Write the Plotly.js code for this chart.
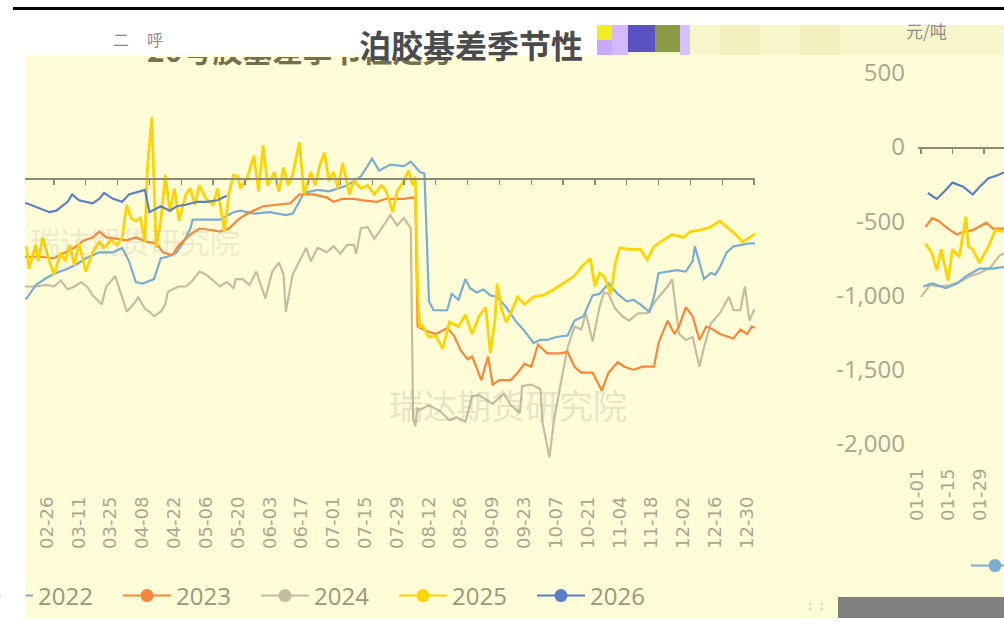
<!DOCTYPE html>
<html><head><meta charset="utf-8">
<script src="https://cdn.plot.ly/plotly-3.0.1.min.js"></script>
<style>html,body{margin:0;padding:0;background:#fff;}#chart{width:1004px;height:642px;}</style>
</head><body><div id="chart"></div>
<script>
// ---------- data ----------
const tickLabels = ['01-01','01-15','01-29','02-12','02-26','03-11','03-25','04-08','04-22','05-06','05-20','06-03','06-17','07-01','07-15','07-29','08-12','08-26','09-09','09-23','10-07','10-21','11-04','11-18','12-02','12-16','12-30'];
const years = ['2022','2023','2024','2025','2026'];
const yTickVals = [500,0,-500,-1000,-1500,-2000];
const yTickText = ['500','0','-500','-1,000','-1,500','-2,000'];

// left chart (day of year index, value)
const L2022d = [40,44,48,53,57,62,66,70,76,82,86,89,92,95,100,103,106,110,113,116,117,123,129,135,138,144,151,158,161,166,172,177,185,191,196,199,204,210,213,217,219,221,223,229,231,234,237,239,242,245,248,251,255,259,263,267,270,273,277,282,285,289,293,296,300,304,308,311,314,318,320,322,326,330,334,337,338,340,342,345,347,349,352,355,359,362,365];
const L2022v = [-810,-810,-720,-670,-640,-610,-580,-540,-500,-500,-470,-560,-700,-710,-680,-540,-530,-500,-430,-340,-280,-280,-280,-230,-220,-240,-230,-250,-240,-100,-80,-90,-50,10,130,50,90,80,110,40,30,-830,-890,-890,-780,-820,-680,-740,-770,-750,-790,-800,-870,-960,-1030,-1110,-1090,-1090,-1070,-1060,-960,-930,-790,-780,-710,-780,-830,-820,-850,-900,-800,-640,-630,-620,-630,-560,-460,-570,-680,-640,-650,-600,-500,-460,-450,-440,-440];
const L2023d = [40,44,50,56,60,65,69,73,76,79,84,88,92,97,101,104,108,111,116,120,125,129,133,137,141,148,154,160,164,170,176,179,183,188,192,198,202,210,214,215,216,220,224,229,232,235,238,240,244,247,249,252,257,260,263,266,269,273,279,282,285,288,293,297,300,304,307,311,315,320,322,326,329,331,334,337,340,343,346,349,355,358,361,363,365];
const L2023v = [-530,-530,-530,-540,-510,-470,-420,-400,-360,-400,-410,-420,-400,-430,-440,-500,-520,-450,-380,-340,-350,-360,-340,-280,-240,-190,-180,-170,-110,-110,-130,-160,-140,-140,-150,-160,-140,-140,-130,-140,-1000,-1030,-1050,-1010,-1060,-1160,-1220,-1200,-1360,-1200,-1390,-1360,-1360,-1310,-1250,-1270,-1120,-1180,-1180,-1170,-1270,-1310,-1310,-1430,-1310,-1240,-1270,-1290,-1270,-1270,-1110,-960,-1050,-1000,-870,-930,-1090,-1000,-1020,-1050,-1080,-1020,-1050,-1000,-1010];
const L2024d = [40,44,48,53,56,59,62,65,68,71,73,77,79,83,86,88,92,93,96,98,100,103,105,106,108,111,114,117,120,123,126,129,132,135,136,139,142,145,149,152,155,157,158,161,163,167,169,172,176,179,182,185,188,189,191,194,197,200,204,207,210,213,214,215,216,217,221,226,230,233,237,240,243,249,252,254,257,261,262,266,270,271,274,276,279,282,285,288,290,293,296,298,300,303,306,309,313,317,321,326,328,331,334,337,340,342,345,349,353,355,358,360,362,364,365];
const L2024v = [-730,-730,-730,-720,-730,-690,-750,-730,-700,-740,-790,-850,-730,-660,-800,-900,-830,-800,-880,-900,-930,-900,-850,-770,-750,-730,-730,-690,-630,-650,-690,-730,-700,-740,-680,-680,-720,-630,-810,-630,-570,-650,-900,-650,-590,-470,-560,-470,-500,-460,-510,-450,-450,-510,-340,-330,-410,-340,-250,-320,-270,-340,-1620,-1670,-1550,-1560,-1530,-1570,-1630,-1610,-1640,-1470,-1460,-1520,-1480,-1450,-1530,-1580,-1400,-1390,-1420,-1650,-1880,-1630,-1380,-1140,-1000,-1020,-910,-1100,-870,-770,-780,-880,-930,-960,-910,-910,-820,-730,-680,-1050,-1090,-1070,-1270,-1140,-980,-910,-800,-890,-890,-730,-960,-890,-900];
const L2025d = [40,44,45,48,49,51,54,56,59,61,63,65,67,70,73,76,78,81,84,86,88,90,92,94,96,97,99,101,103,105,107,109,111,114,116,118,120,123,126,128,131,133,135,137,138,141,144,146,148,150,153,155,157,159,161,164,166,169,171,173,175,177,179,181,183,186,188,191,194,197,200,202,205,207,210,212,214,215,216,217,218,221,224,227,230,234,237,240,243,246,248,250,251,253,255,257,260,263,267,271,276,280,285,288,292,294,296,298,301,303,305,309,314,317,320,324,328,333,336,340,345,349,353,356,359,362,364,365];
const L2025v = [-470,-470,-610,-450,-560,-400,-560,-650,-500,-560,-450,-590,-440,-630,-500,-430,-470,-420,-450,-400,-180,-270,-290,-270,-430,40,410,-470,-290,20,-230,-70,-290,-110,-70,-180,-50,-140,-180,-70,-360,-100,20,10,-70,0,150,-90,220,-50,40,-90,70,-50,20,240,-110,40,-50,90,170,-20,40,-70,100,-110,-20,-70,-50,-110,-50,-80,-230,-90,-20,50,-50,10,-770,-1000,-990,-1070,-1060,-1150,-970,-1000,-920,-1050,-930,-870,-1180,-960,-710,-890,-970,-910,-800,-850,-800,-790,-750,-710,-660,-600,-540,-730,-640,-660,-780,-570,-470,-480,-480,-550,-460,-420,-380,-400,-360,-350,-330,-290,-340,-380,-430,-400,-380,-370];
const L2026d = [40,44,54,57,62,64,67,70,73,76,78,82,86,89,96,98,103,107,110,114,119,123,128,132];
const L2026v = [-170,-170,-230,-220,-160,-110,-150,-160,-170,-140,-100,-140,-160,-110,-80,-230,-190,-220,-190,-180,-160,-160,-150,-120];

// right chart (day of year index, value)
const R2022d = [1,5,11,16,20,26,32,37,40];
const R2022v = [-940,-920,-950,-920,-870,-820,-820,-810,-800];
const R2023d = [2,5,8,12,16,19,23,29,32,37,40];
const R2023v = [-540,-480,-500,-550,-590,-570,-560,-510,-550,-550,-540];
const R2024d = [0,4,8,13,17,22,26,31,35,37,40];
const R2024v = [-1010,-930,-940,-930,-910,-870,-850,-810,-730,-720,-700];
const R2025d = [2,5,7,9,12,14,17,20,21,23,26,30,33,37,40];
const R2025v = [-650,-720,-830,-690,-900,-690,-740,-470,-670,-690,-780,-670,-560,-570,-560];
const R2026d = [3,7,11,14,19,23,26,30,34,37,40];
const R2026v = [-310,-350,-290,-240,-270,-320,-270,-210,-190,-170,-150];

// ---------- styling / geometry ----------
const colors = {'2022':'#7badcf','2023':'#f5883a','2024':'#c6bca2','2025':'#ffd400','2026':'#5a7fc6'};
const W=1004,H=642;
const px=x=>x/W, py=y=>1-y/H;
const dayL = x => 56 + (x-54)/2.2727;
const dayR = x => (x-921)/2.25;
const valL = y => (178-y)/0.1486;
const valR = y => (147-y)/0.1484;
const tickVals = tickLabels.map((_,i)=>i*14);
const labelFont = {family:'DejaVu Sans', size:18, color:'#aca68e'};
const LEGEND_LEFT = -20;

const leftSets = {'2022':[L2022d,L2022v],'2023':[L2023d,L2023v],'2024':[L2024d,L2024v],'2025':[L2025d,L2025v],'2026':[L2026d,L2026v]};
const rightSets = {'2022':[R2022d,R2022v],'2023':[R2023d,R2023v],'2024':[R2024d,R2024v],'2025':[R2025d,R2025v],'2026':[R2026d,R2026v]};
const drawOrder = ['2024','2022','2023','2025','2026'];

const traces = [];
drawOrder.forEach(yr=>{
  traces.push({x:leftSets[yr][0], y:leftSets[yr][1], xaxis:'x', yaxis:'y', mode:'lines', name:yr,
    line:{color:colors[yr], width: yr==='2025'?2.8:2.2}, showlegend:false, hoverinfo:'skip'});
  traces.push({x:rightSets[yr][0], y:rightSets[yr][1], xaxis:'x2', yaxis:'y2', mode:'lines', name:yr,
    line:{color:colors[yr], width: yr==='2025'?2.8:2.2}, showlegend:false, hoverinfo:'skip'});
});
years.forEach(yr=>{
  traces.push({x:[null], y:[null], xaxis:'x', yaxis:'y', mode:'lines+markers', name:yr, legend:'legend',
    line:{color:colors[yr], width:2}, marker:{size:13, color:colors[yr]}, hoverinfo:'skip'});
  traces.push({x:[null], y:[null], xaxis:'x2', yaxis:'y2', mode:'lines+markers', name:yr, legend:'legend2',
    line:{color:colors[yr], width:2}, marker:{size:13, color:colors[yr]}, hoverinfo:'skip'});
});
traces.push({x:[null],y:[null],xaxis:'x3',yaxis:'y',showlegend:false,hoverinfo:'skip'});
traces.push({x:[null],y:[null],xaxis:'x4',yaxis:'y2',showlegend:false,hoverinfo:'skip'});

const noGrid = {showgrid:false, zeroline:false};
const axisCol = '#8e8977';
const legendFont = {family:'Open Sans', size:24, color:'#9d977b'};
const ann = (o) => Object.assign({xref:'paper', yref:'paper', showarrow:false, xanchor:'center', yanchor:'middle'}, o);
const layout = {
  width:W, height:H, margin:{l:0,r:0,t:0,b:0,autoexpand:false},
  paper_bgcolor:'#ffffff', plot_bgcolor:'rgba(0,0,0,0)',
  xaxis:Object.assign({domain:[px(25),px(755)], range:[dayL(25),dayL(755)], anchor:'free', position:py(492),
    tickmode:'array', tickvals:tickVals, ticktext:tickLabels, tickangle:-90, ticklabelshift:-7,
    ticks:'', showline:false, tickfont:labelFont}, noGrid),
  yaxis:Object.assign({domain:[py(490),py(55)], range:[valL(490),valL(55)], visible:false}, noGrid),
  xaxis3:Object.assign({overlaying:'x', domain:[px(25),px(755)], range:[dayL(25),dayL(755)], anchor:'free', position:py(178),
    tickmode:'array', tickvals:tickVals, ticks:'outside', ticklen:5, tickwidth:1.2, tickcolor:axisCol,
    showline:true, linecolor:axisCol, linewidth:1.5, showticklabels:false}, noGrid),
  xaxis2:Object.assign({domain:[px(918),1], range:[dayR(918),dayR(1004)], anchor:'free', position:py(464),
    tickmode:'array', tickvals:tickVals, ticktext:tickLabels, tickangle:-90, ticklabelshift:-4,
    ticks:'', showline:false, tickfont:labelFont}, noGrid),
  yaxis2:Object.assign({domain:[py(470),py(55)], range:[valR(470),valR(55)], anchor:'x2',
    tickmode:'array', tickvals:yTickVals, ticktext:yTickText, ticks:'', showline:false, ticklabelstandoff:12,
    tickfont:{family:'Open Sans', size:24, color:'#aca68e'}}, noGrid),
  xaxis4:Object.assign({overlaying:'x2', domain:[px(918),1], range:[dayR(918),dayR(1004)], anchor:'free', position:py(147),
    tickmode:'array', tickvals:tickVals, ticks:'outside', ticklen:5, tickwidth:1.2, tickcolor:axisCol,
    showline:true, linecolor:axisCol, linewidth:1.5, showticklabels:false}, noGrid),
  legend:{orientation:'h', x:0, xanchor:'left', y:py(596), yanchor:'middle', itemwidth:48, entrywidth:75,
    font:legendFont, bgcolor:'rgba(0,0,0,0)', traceorder:'normal'},
  legend2:{orientation:'h', x:px(966), xanchor:'left', y:py(566), yanchor:'middle', itemwidth:48, entrywidth:75,
    font:legendFont, bgcolor:'rgba(0,0,0,0)', traceorder:'normal'},
  shapes:[
    {type:'rect', xref:'paper', yref:'paper', x0:px(25), x1:1, y0:py(618), y1:py(55), fillcolor:'#fefdd8', line:{width:0}, layer:'below'},
    {type:'rect', xref:'paper', yref:'paper', x0:px(597), x1:1, y0:py(55), y1:py(25), fillcolor:'#f9f6cc', line:{width:0}, layer:'below'},
    {type:'rect', xref:'paper', yref:'paper', x0:px(597), x1:px(612), y0:py(40), y1:py(25), fillcolor:'#f2ee1e', line:{width:0}, layer:'below'},
    {type:'rect', xref:'paper', yref:'paper', x0:px(597), x1:px(612), y0:py(55), y1:py(40), fillcolor:'#c9a9fb', line:{width:0}, layer:'below'},
    {type:'rect', xref:'paper', yref:'paper', x0:px(612), x1:px(628), y0:py(55), y1:py(25), fillcolor:'#d4bafc', line:{width:0}, layer:'below'},
    {type:'rect', xref:'paper', yref:'paper', x0:px(628), x1:px(655), y0:py(52), y1:py(25), fillcolor:'#5b52c2', line:{width:0}, layer:'below'},
    {type:'rect', xref:'paper', yref:'paper', x0:px(655), x1:px(680), y0:py(52), y1:py(25), fillcolor:'#8c9a48', line:{width:0}, layer:'below'},
    {type:'rect', xref:'paper', yref:'paper', x0:px(680), x1:px(690), y0:py(55), y1:py(25), fillcolor:'#d5c4fb', line:{width:0}, layer:'below'},
    {type:'rect', xref:'paper', yref:'paper', x0:px(720), x1:px(760), y0:py(55), y1:py(25), fillcolor:'#f4efbf', line:{width:0}, layer:'below'},
    {type:'rect', xref:'paper', yref:'paper', x0:px(800), x1:px(840), y0:py(55), y1:py(25), fillcolor:'#f4efbf', line:{width:0}, layer:'below'},
    {type:'rect', xref:'paper', yref:'paper', x0:px(838), x1:1, y0:py(618), y1:py(597), fillcolor:'#808080', line:{width:0}, layer:'below'},
    {type:'line', xref:'paper', yref:'paper', x0:px(13), x1:1, y0:py(8.5), y1:py(8.5), line:{color:'#000000', width:3}, layer:'below'}
  ],
  annotations:[
    ann({text:'瑞达期货研究院', x:px(508), y:py(404),
      font:{family:'Noto Sans CJK SC', size:34, color:'rgba(175,168,150,0.30)'}}),
    ann({text:'瑞达期货研究院', x:px(135), y:py(240),
      font:{family:'Noto Sans CJK SC', size:30, color:'rgba(175,168,150,0.22)'}}),
    ann({text:'20号胶基差季节性走势', x:px(145), xanchor:'left', y:py(55), yanchor:'top',
      height:14, valign:'bottom',
      font:{family:'Noto Sans CJK SC', size:30, weight:700, color:'#77704f'}}),
    ann({text:'泊胶基差季节性', x:px(357), xanchor:'left', y:py(44),
      font:{family:'Noto Sans CJK SC', size:32, weight:700, color:'#4b4b4b'}}),
    ann({text:'二     呼', x:px(138), y:py(39),
      font:{family:'Noto Sans CJK SC', size:16, color:'#8a8a8a'}}),
    ann({text:'元/吨', x:px(926), y:py(31),
      font:{family:'Noto Sans CJK SC', size:17, color:'#8c8c8c'}}),
    ann({text:':  :', x:px(816), y:py(606),
      font:{family:'DejaVu Sans', size:12, color:'#aaaaaa'}}),
    ann({text:' ', x:0, xanchor:'left', y:py(570), yanchor:'top', width:24, height:50,
      bgcolor:'#ffffff', borderpad:0})
  ]
};
Plotly.newPlot('chart', traces, layout, {staticPlot:true, displayModeBar:false}).then(gd=>{
  const lw = gd._fullLayout.legend._width;
  return Plotly.relayout(gd, {'legend.xanchor':'right', 'legend.x':(LEGEND_LEFT + lw)/W});
});
</script>
</body></html>
